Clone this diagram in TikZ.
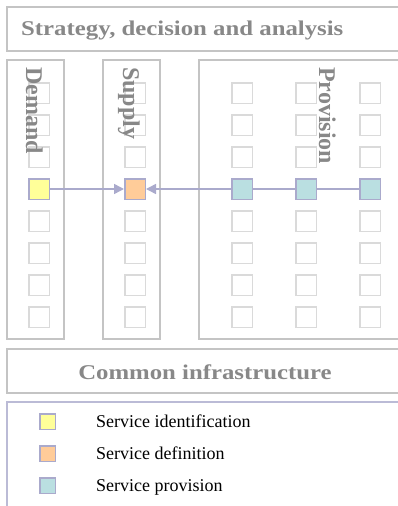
\documentclass[tikz,border=0pt]{standalone}
\usepackage{graphicx}
\usepackage{fontspec}
\setmainfont{Liberation Serif}
\usetikzlibrary{arrows.meta}
\definecolor{boxgray}{HTML}{C4C4C4}
\definecolor{cellgray}{HTML}{DADADA}
\definecolor{titlegray}{HTML}{888888}
\definecolor{linkblue}{HTML}{AAAACC}
\definecolor{idyellow}{HTML}{FFFF99}
\definecolor{deforange}{HTML}{FFCC99}
\definecolor{provcyan}{HTML}{BADFE1}

\begin{document}
\begin{tikzpicture}[x=1pt, y=-1pt,
    frame/.style={draw=boxgray, line width=1.5pt},
    cell/.style={draw=cellgray, fill=white, line width=1.5pt, minimum size=20.5pt, inner sep=0pt},
    done/.style={cell, draw=linkblue},
    heading/.style={text=titlegray, font=\fontsize{21}{24}\selectfont\bfseries, inner sep=0pt},
    colname/.style={text=titlegray, font=\fontsize{24}{28}\selectfont\bfseries, rotate=-90, anchor=base west, inner sep=0pt},
    link/.style={draw=linkblue, line width=1.5pt},
    tip/.style={-{Triangle[length=10pt, width=10pt]}},
    legend/.style={font=\fontsize{18}{21}\selectfont, anchor=base west, inner sep=0pt}]

    \clip (0,0) rectangle (398,506);

    % Frames
    \draw[frame] (7,7) rectangle (410,51);
    \draw[frame] (7,60) rectangle (64,339);
    \draw[frame] (103,60) rectangle (160,339);
    \draw[frame] (199,60) rectangle (410,339);
    \draw[frame] (7,349) rectangle (410,393);
    \draw[draw=linkblue!80, line width=1.2pt] (7,402) rectangle (410,520);

    % Empty cells
    \foreach \col/\x in {dem/39, sup/135, pa/242, pb/306, pc/370}
        \foreach \row in {1,2,3,5,6,7,8}
            \node[cell] (\col\row) at (\x, 61+32*\row) {};

    % Coloured cells
    \node[done, fill=idyellow] (ident) at (39,189) {};
    \node[done, fill=deforange] (define) at (135,189) {};
    \node[done, fill=provcyan] (provA) at (242,189) {};
    \node[done, fill=provcyan] (provB) at (306,189) {};
    \node[done, fill=provcyan] (provC) at (370,189) {};

    % Column names
    \node[colname] (demname) at (26,67) {Demand};
    \node[colname] (supname) at (123,67) {Supply};
    \node[colname] (provname) at (319,67) {Provision};

    % Headings
    \node[heading, anchor=base west] (strat) at (21,35) {\scalebox{1.18}[1]{Strategy, decision and analysis}};
    \node[heading, anchor=base] (infra) at (205,379) {\scalebox{1.18}[1]{Common infrastructure}};

    % Links
    \draw[link, tip] (ident) -- (define);
    \draw[link, tip] (provA) -- (define);
    \draw[link] (provA) -- (provB);
    \draw[link] (provB) -- (provC);

    % Legend
    \node[done, fill=idyellow, minimum size=15.5pt] (keyident) at (47.5,421.5) {};
    \node[done, fill=deforange, minimum size=15.5pt] (keydefine) at (47.5,453.5) {};
    \node[done, fill=provcyan, minimum size=15.5pt] (keyprov) at (47.5,485.5) {};
    \node[legend] (identtext) at (96,427) {Service identification};
    \node[legend] (definetext) at (96,459) {Service definition};
    \node[legend] (provtext) at (96,491) {Service provision};
\end{tikzpicture}
\end{document}
